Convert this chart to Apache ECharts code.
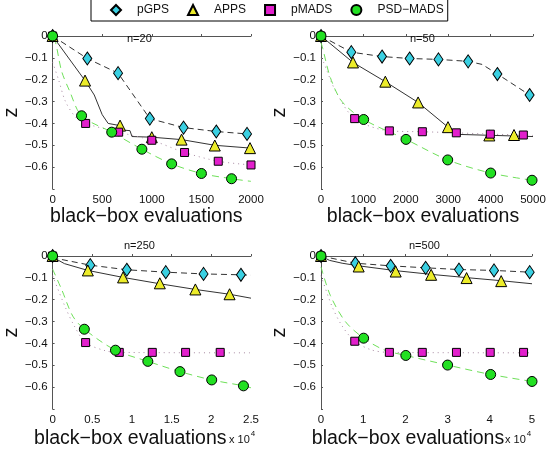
<!DOCTYPE html>
<html>
<head>
<meta charset="utf-8">
<script src="https://cdn.jsdelivr.net/npm/echarts@6/dist/echarts.min.js"></script>
<style>
  html, body { margin: 0; padding: 0; background: #fff; }
  #chart { width: 551px; height: 461px; }
</style>
</head>
<body>
<div id="chart"></div>
<script>
// ---- data (x in evaluations, bottom row in units of 1e4) ----
var names = ['pGPS', 'APPS', 'pMADS', 'PSD\u2212MADS'];
var titles = ['n=20', 'n=50', 'n=250', 'n=500'];
var xTicks20 = [0, 500, 1000, 1500, 2000];
var xTicks50 = [0, 1000, 2000, 3000, 4000, 5000];
var xTicks250 = [0, 0.5, 1, 1.5, 2, 2.5];
var xTicks500 = [0, 1, 2, 3, 4, 5];
var yTicks = [0, -0.1, -0.2, -0.3, -0.4, -0.5, -0.6];

// n=20
var gps20 = [[0,0],[350,-0.103],[660,-0.17],[980,-0.378],[1320,-0.419],[1650,-0.437],[1960,-0.448]];
var gps20Line = [[0,0],[350,-0.103],[660,-0.17],[980,-0.378],[1320,-0.419],[1650,-0.437],[1960,-0.448]];
var apps20 = [[0,0],[327,-0.204],[680,-0.41],[1000,-0.463],[1300,-0.474],[1635,-0.501],[1990,-0.513]];
var apps20Line = [[0,0],[327,-0.204],[420,-0.27],[500,-0.36],[560,-0.4],[680,-0.41],[700,-0.43],[780,-0.433],[800,-0.46],[1000,-0.463],[1300,-0.474],[1635,-0.5],[2000,-0.513]];
var pmads20 = [[0,0],[333,-0.4],[666,-0.44],[1000,-0.477],[1330,-0.533],[1670,-0.573],[2000,-0.59]];
var pmads20Line = [[0,-0.12],[60,-0.2],[130,-0.3],[230,-0.37],[333,-0.4],[666,-0.44],[1000,-0.477],[1330,-0.533],[1670,-0.573],[2000,-0.59]];
var psd20 = [[0,0],[292,-0.365],[596,-0.44],[900,-0.518],[1200,-0.585],[1500,-0.629],[1804,-0.653]];
var psd20Line = [[0,-0.01],[30,-0.03],[90,-0.16],[170,-0.25],[292,-0.365],[596,-0.44],[900,-0.518],[1200,-0.585],[1500,-0.629],[1804,-0.653],[2000,-0.665]];

// n=50
var gps50 = [[0,0],[715,-0.074],[1440,-0.094],[2090,-0.103],[2770,-0.107],[3470,-0.116],[4160,-0.174],[4920,-0.27]];
var gps50Line = [[0,0],[715,-0.074],[1440,-0.094],[2090,-0.103],[2770,-0.107],[3470,-0.116],[3800,-0.13],[4160,-0.174],[4920,-0.27]];
var apps50 = [[0,0],[755,-0.121],[1517,-0.209],[2290,-0.304],[2995,-0.417],[3970,-0.455],[4552,-0.453]];
var apps50Line = [[0,0],[755,-0.121],[1517,-0.209],[2290,-0.304],[2995,-0.417],[3200,-0.45],[5000,-0.46]];
var pmads50 = [[0,0],[794,-0.378],[1612,-0.434],[2390,-0.438],[3192,-0.443],[3994,-0.449],[4772,-0.453]];
var pmads50Line = [[0,-0.1],[60,-0.12],[340,-0.25],[794,-0.378],[1612,-0.434],[2390,-0.438],[3192,-0.443],[3994,-0.449],[4772,-0.453],[5000,-0.455]];
var psd50 = [[0,0],[1006,-0.382],[2005,-0.473],[2988,-0.567],[4002,-0.627],[4977,-0.66]];
var psd50Line = [[0,-0.03],[40,-0.056],[220,-0.19],[495,-0.3],[1006,-0.382],[2005,-0.473],[2988,-0.567],[4002,-0.627],[4977,-0.66]];

// n=250 (x 1e4)
var gps250 = [[0,0],[0.475,-0.042],[0.935,-0.063],[1.426,-0.074],[1.902,-0.082],[2.373,-0.086]];
var gps250Line = [[0,0],[0.1,-0.015],[0.475,-0.042],[0.935,-0.063],[1.426,-0.074],[1.902,-0.082],[2.373,-0.086],[2.5,-0.088]];
var apps250 = [[0,0],[0.444,-0.066],[0.888,-0.098],[1.351,-0.125],[1.799,-0.153],[2.23,-0.175]];
var apps250Line = [[0,0],[0.05,-0.015],[0.15,-0.035],[0.444,-0.066],[0.888,-0.098],[1.351,-0.127],[1.799,-0.153],[2.23,-0.175],[2.5,-0.193]];
var pmads250 = [[0,0],[0.416,-0.396],[0.84,-0.441],[1.256,-0.441],[1.676,-0.441],[2.112,-0.441]];
var pmads250Line = [[0,-0.09],[0.155,-0.23],[0.273,-0.32],[0.416,-0.396],[0.67,-0.434],[0.84,-0.441],[2.5,-0.443]];
var psd250 = [[0,0],[0.4,-0.335],[0.792,-0.431],[1.2,-0.482],[1.605,-0.529],[2.005,-0.567],[2.405,-0.594]];
var psd250Line = [[0,-0.06],[0.115,-0.154],[0.254,-0.275],[0.4,-0.335],[0.792,-0.431],[1.2,-0.482],[1.605,-0.529],[2.005,-0.567],[2.405,-0.594],[2.5,-0.603]];

// n=500 (x 1e4)
var gps500 = [[0,0],[0.814,-0.033],[1.651,-0.045],[2.48,-0.054],[3.27,-0.062],[4.1,-0.066],[4.945,-0.074]];
var gps500Line = [[0,0],[0.814,-0.033],[1.651,-0.045],[2.48,-0.054],[3.27,-0.062],[4.1,-0.066],[4.945,-0.074]];
var apps500 = [[0,0],[0.893,-0.048],[1.77,-0.071],[2.61,-0.086],[3.45,-0.101],[4.27,-0.115]];
var apps500Line = [[0,0],[0.2,-0.02],[0.5,-0.033],[0.893,-0.045],[1.77,-0.067],[2.61,-0.084],[3.45,-0.099],[4.27,-0.113],[5,-0.127]];
var pmads500 = [[0,0],[0.8,-0.39],[1.62,-0.441],[2.4,-0.441],[3.21,-0.441],[4.01,-0.441],[4.8,-0.441]];
var pmads500Line = [[0,-0.09],[0.26,-0.23],[0.5,-0.32],[0.8,-0.39],[1.2,-0.43],[1.62,-0.441],[5,-0.443]];
var psd500 = [[0,0],[1.01,-0.376],[2.01,-0.455],[3.0,-0.499],[4.02,-0.542],[5.0,-0.574]];
var psd500Line = [[0,-0.05],[0.22,-0.18],[0.577,-0.3],[1.01,-0.376],[1.5,-0.43],[2.01,-0.455],[3.0,-0.499],[4.02,-0.542],[5.0,-0.574]];

var FONT = '"Liberation Sans", Arial, Helvetica, sans-serif';
var chart = echarts.init(document.getElementById('chart'));

var styles = [
  { symbol: 'diamond', size: [9, 13], fill: '#3ad0e2', line: { color: '#333', width: 1, type: [6, 4] }, smooth: false },
  { symbol: 'triangle', size: 11, fill: '#ecec2a', line: { color: '#333', width: 1, type: 'solid' }, smooth: false },
  { symbol: 'rect', size: 8, fill: '#e21fcc', line: { color: '#a88aa2', width: 1, type: [1, 4] }, smooth: 0.3 },
  { symbol: 'circle', size: 10, fill: '#22e022', line: { color: '#6fe05a', width: 1, type: [7, 5] }, smooth: 0.3 }
];

var panels = [
  { lines: [gps20Line, apps20Line, pmads20Line, psd20Line], pts: [gps20, apps20, pmads20, psd20], ticks: xTicks20 },
  { lines: [gps50Line, apps50Line, pmads50Line, psd50Line], pts: [gps50, apps50, pmads50, psd50], ticks: xTicks50 },
  { lines: [gps250Line, apps250Line, pmads250Line, psd250Line], pts: [gps250, apps250, pmads250, psd250], ticks: xTicks250 },
  { lines: [gps500Line, apps500Line, pmads500Line, psd500Line], pts: [gps500, apps500, pmads500, psd500], ticks: xTicks500 }
];

var gridPos = [
  { left: 40, top: 36, width: 211, height: 153 },
  { left: 321, top: 36, width: 212, height: 153 },
  { left: 40, top: 256, width: 211, height: 153 },
  { left: 321, top: 256, width: 211, height: 153 }
];
// title placement and axis-name shift per panel
var titlePos = [[127, 33], [410, 33], [124, 240], [409, 240]];
var nameShift = [11, 8, 43, 37];

function minus(v) {
  return String(v).replace('-', '\u2212');
}

var grids = [], xAxes = [], yAxes = [], series = [], titleList = [];
var axisLine = { show: true, lineStyle: { color: '#555', width: 1 } };
var axisTick = { show: true, inside: true, length: 2, lineStyle: { color: '#555' } };

panels.forEach(function (p, i) {
  grids.push(gridPos[i]);
  var t = p.ticks;
  xAxes.push({
    type: 'value', gridIndex: i, min: t[0], max: t[t.length - 1], interval: t[1] - t[0],
    splitLine: { show: false }, axisLine: axisLine, axisTick: axisTick,
    axisLabel: {
      color: '#111', fontSize: 11.5, fontFamily: FONT, margin: 5,
      formatter: function (v) { return String(v); }
    },
    name: 'black\u2212box evaluations', nameLocation: 'middle', nameGap: i < 2 ? 17 : 20,
    nameTextStyle: { color: '#111', fontSize: 19.5, fontFamily: FONT, padding: [0, nameShift[i], 0, 0] }
  });
  yAxes.push({
    type: 'value', gridIndex: i, min: -0.7, max: 0, interval: 0.1,
    splitLine: { show: false }, axisLine: axisLine, axisTick: axisTick,
    axisLabel: {
      color: '#111', fontSize: 11.5, fontFamily: FONT, margin: 5,
      formatter: function (v) {
        var r = Math.round(v * 10) / 10;
        return yTicks.indexOf(r) >= 0 ? minus(r) : '';
      }
    },
    name: 'z', nameLocation: 'middle', nameRotate: 90, nameGap: 21,
    nameTextStyle: { color: '#111', fontSize: 20, fontFamily: FONT }
  });
  titleList.push({
    text: titles[i], left: titlePos[i][0], top: titlePos[i][1], padding: 0,
    textStyle: { color: '#111', fontSize: 11, fontWeight: 'normal', fontFamily: FONT }
  });
  styles.forEach(function (s, k) {
    series.push({
      type: 'line', name: names[k] + ' curve', xAxisIndex: i, yAxisIndex: i,
      data: p.lines[k], symbol: 'none', showSymbol: false, smooth: s.smooth, clip: false,
      lineStyle: s.line, silent: true, z: 2 + k
    });
  });
  styles.forEach(function (s, k) {
    series.push({
      type: 'scatter', name: names[k], xAxisIndex: i, yAxisIndex: i,
      data: p.pts[k], symbol: s.symbol, symbolSize: s.size, clip: false,
      itemStyle: { color: s.fill, borderColor: '#000', borderWidth: 1, opacity: 1 },
      z: 10 + k
    });
  });
});

var option = {
  animation: false,
  backgroundColor: '#fff',
  title: titleList,
  legend: {
    data: names.map(function (n, k) {
      return { name: n, icon: styles[k].symbol };
    }),
    left: 91, top: -1, orient: 'horizontal',
    padding: [5, 4, 5, 19], itemGap: 18, itemWidth: 10, itemHeight: 10,
    borderColor: '#000', borderWidth: 1, backgroundColor: '#fff',
    textStyle: { color: '#111', fontSize: 12, fontFamily: FONT, padding: [0, 0, 0, 11] }
  },
  grid: grids,
  xAxis: xAxes,
  yAxis: yAxes,
  graphic: [
    { type: 'text', left: 229, top: 430, style: { text: '{a|x 10}{b|4}', rich: { a: { fontSize: 11, fontFamily: FONT, fill: '#111', padding: [6, 0, 0, 0] }, b: { fontSize: 8, fontFamily: FONT, fill: '#111', padding: [0, 0, 6, 1] } } } },
    { type: 'text', left: 505, top: 430, style: { text: '{a|x 10}{b|4}', rich: { a: { fontSize: 11, fontFamily: FONT, fill: '#111', padding: [6, 0, 0, 0] }, b: { fontSize: 8, fontFamily: FONT, fill: '#111', padding: [0, 0, 6, 1] } } } }
  ],
  series: series
};
chart.setOption(option);
</script>
</body>
</html>
